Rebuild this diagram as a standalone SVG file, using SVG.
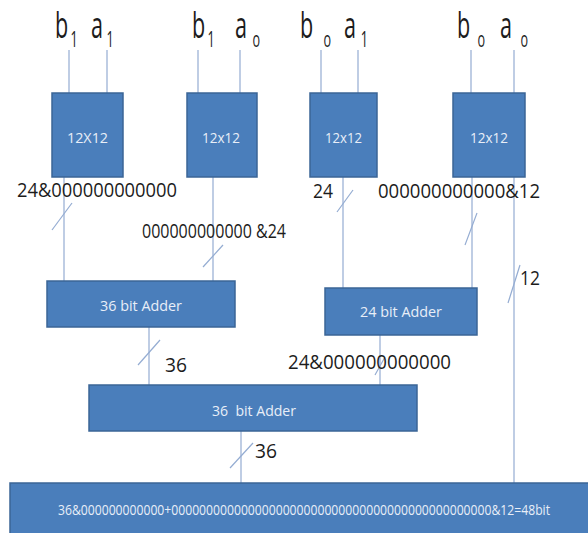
<svg xmlns="http://www.w3.org/2000/svg" width="588" height="533" viewBox="0 0 588 533">
<style>
.box{fill:#4a7ebb;stroke:#3b6596;stroke-width:1.5}
.ln{stroke:#94acd2;stroke-width:1.2;fill:none}
.lbl{font-family:"Open Sans","Liberation Sans",sans-serif;fill:#1c1c1c}
.big{font-size:36px}
.sub{font-size:21px}
.mid{font-size:20px}
.in{font-family:"Open Sans","Liberation Sans",sans-serif;fill:#e8eef8;font-size:15px}
</style>
<rect width="588" height="533" fill="#ffffff"/>
<g id="inputs">
<text class="lbl big" transform="translate(55,38) scale(0.6,1)">b<tspan class="sub" x="26" y="9">1</tspan></text>
<text class="lbl big" transform="translate(91,38) scale(0.6,1)">a<tspan class="sub" x="26" y="9">1</tspan></text>
<text class="lbl big" transform="translate(192,38) scale(0.6,1)">b<tspan class="sub" x="26" y="9">1</tspan></text>
<text class="lbl big" transform="translate(235,38) scale(0.6,1)">a<tspan class="sub" x="29" y="9">o</tspan></text>
<text class="lbl big" transform="translate(300,38) scale(0.6,1)">b<tspan class="sub" x="39" y="9">o</tspan></text>
<text class="lbl big" transform="translate(344,38) scale(0.6,1)">a<tspan class="sub" x="28" y="9">1</tspan></text>
<text class="lbl big" transform="translate(457,38) scale(0.6,1)">b<tspan class="sub" x="34" y="9">o</tspan></text>
<text class="lbl big" transform="translate(500,38) scale(0.6,1)">a<tspan class="sub" x="34" y="9">o</tspan></text>
</g>
<g id="connectors">
<line class="ln" x1="69" y1="50" x2="69" y2="93"/>
<line class="ln" x1="107" y1="50" x2="107" y2="93"/>
<line class="ln" x1="198" y1="50" x2="198" y2="93"/>
<line class="ln" x1="240" y1="50" x2="240" y2="93"/>
<line class="ln" x1="321" y1="50" x2="321" y2="93"/>
<line class="ln" x1="358" y1="50" x2="358" y2="93"/>
<line class="ln" x1="471" y1="50" x2="471" y2="93"/>
<line class="ln" x1="514" y1="50" x2="514" y2="93"/>
<line class="ln" x1="64" y1="177" x2="64" y2="281"/>
<line class="ln" x1="213" y1="177" x2="213" y2="281"/>
<line class="ln" x1="343" y1="177" x2="343" y2="288"/>
<line class="ln" x1="472" y1="177" x2="472" y2="288"/>
<line class="ln" x1="514" y1="177" x2="514" y2="483"/>
<line class="ln" x1="149" y1="327" x2="149" y2="385"/>
<line class="ln" x1="380" y1="335" x2="380" y2="385"/>
<line class="ln" x1="241" y1="431" x2="241" y2="483"/>
<line class="ln" x1="52" y1="230" x2="72" y2="203"/>
<line class="ln" x1="203" y1="267" x2="223" y2="245"/>
<line class="ln" x1="337" y1="212" x2="353" y2="190"/>
<line class="ln" x1="465" y1="245" x2="477" y2="213"/>
<line class="ln" x1="508" y1="303" x2="520" y2="265"/>
<line class="ln" x1="138" y1="365" x2="160" y2="340"/>
<line class="ln" x1="375" y1="375" x2="385" y2="357"/>
<line class="ln" x1="230" y1="468" x2="253" y2="443"/>
</g>
<g id="mult1"><rect class="box" x="52" y="93" width="71" height="84"/><text class="in" x="67" y="143" textLength="41" lengthAdjust="spacingAndGlyphs">12X12</text></g>
<g id="mult2"><rect class="box" x="187" y="93" width="70" height="84"/><text class="in" x="202" y="143" textLength="38" lengthAdjust="spacingAndGlyphs">12x12</text></g>
<g id="mult3"><rect class="box" x="310" y="93" width="67" height="84"/><text class="in" x="325" y="143" textLength="37" lengthAdjust="spacingAndGlyphs">12x12</text></g>
<g id="mult4"><rect class="box" x="453" y="93" width="72" height="84"/><text class="in" x="470" y="143" textLength="38" lengthAdjust="spacingAndGlyphs">12x12</text></g>
<g id="adder36a"><rect class="box" x="47" y="281" width="188" height="46"/><text class="in" x="100" y="311" textLength="82" lengthAdjust="spacingAndGlyphs">36 bit Adder</text></g>
<g id="adder24"><rect class="box" x="325" y="288" width="152" height="47"/><text class="in" x="360" y="317" textLength="82" lengthAdjust="spacingAndGlyphs">24 bit Adder</text></g>
<g id="adder36b"><rect class="box" x="89" y="385" width="328" height="46"/><text class="in" x="212" y="416" textLength="84" lengthAdjust="spacingAndGlyphs" xml:space="preserve">36  bit Adder</text></g>
<g id="result"><rect class="box" x="10" y="483" width="582" height="52"/><text class="in" x="58" y="515" textLength="492" lengthAdjust="spacingAndGlyphs">36&amp;000000000000+0000000000000000000000000000000000000000000000&amp;12=48bit</text></g>
<g id="labels">
<text class="lbl mid" x="17" y="197" textLength="160" lengthAdjust="spacingAndGlyphs">24&amp;000000000000</text>
<text class="lbl mid" x="142" y="238" textLength="144" lengthAdjust="spacingAndGlyphs">000000000000 &amp;24</text>
<text class="lbl mid" x="313" y="198" textLength="20" lengthAdjust="spacingAndGlyphs">24</text>
<text class="lbl mid" x="378" y="198" textLength="162" lengthAdjust="spacingAndGlyphs">000000000000&amp;12</text>
<text class="lbl mid" x="520" y="285" textLength="20" lengthAdjust="spacingAndGlyphs">12</text>
<text class="lbl mid" x="165" y="372" textLength="22" lengthAdjust="spacingAndGlyphs">36</text>
<text class="lbl mid" x="288" y="369" textLength="163" lengthAdjust="spacingAndGlyphs">24&amp;000000000000</text>
<text class="lbl mid" x="255" y="458" textLength="22" lengthAdjust="spacingAndGlyphs">36</text>
</g>
</svg>
